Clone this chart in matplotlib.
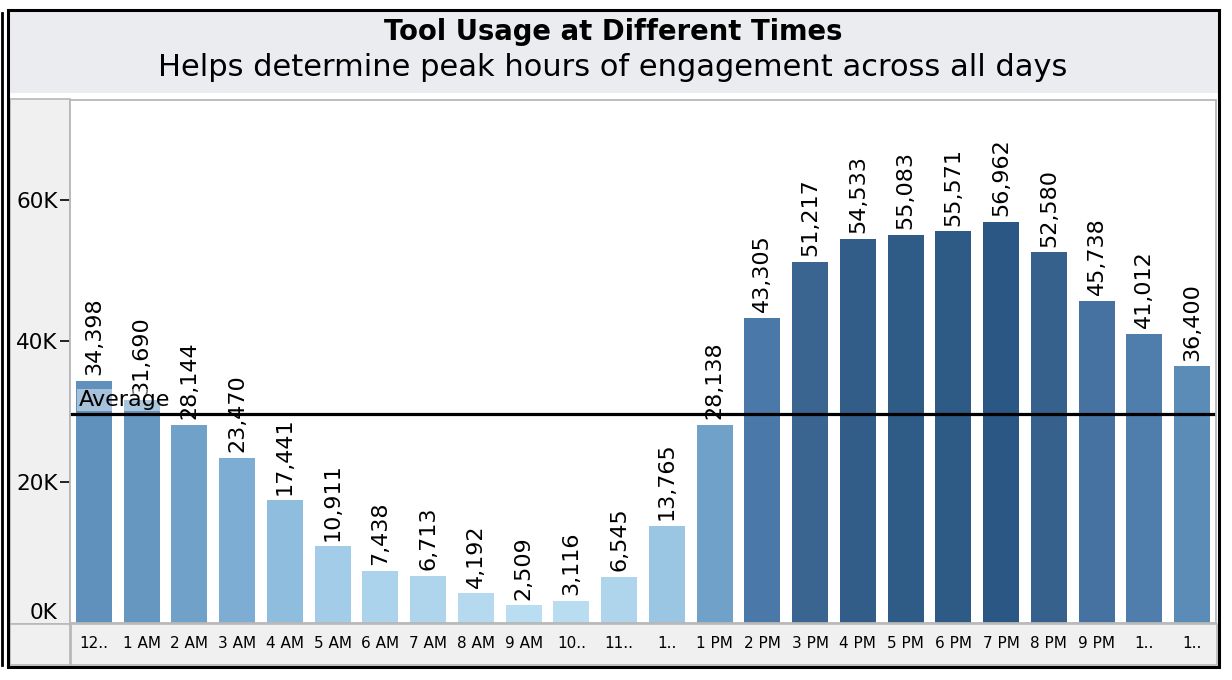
import numpy as np
import matplotlib.pyplot as plt
from matplotlib.colors import LinearSegmentedColormap, Normalize
from matplotlib.patches import Rectangle
from matplotlib.lines import Line2D

# Data
hours = ['12..', '1 AM', '2 AM', '3 AM', '4 AM', '5 AM', '6 AM', '7 AM', '8 AM',
         '9 AM', '10..', '11..', '1..', '1 PM', '2 PM', '3 PM', '4 PM', '5 PM',
         '6 PM', '7 PM', '8 PM', '9 PM', '1..', '1..']
usage = [34398, 31690, 28144, 23470, 17441, 10911, 7438, 6713, 4192, 2509, 3116,
         6545, 13765, 28138, 43305, 51217, 54533, 55083, 55571, 56962, 52580,
         45738, 41012, 36400]
y_ticks = [0, 20000, 40000, 60000]
y_tick_labels = ['0K', '20K', '40K', '60K']

W, H = 1232, 680
fig = plt.figure(figsize=(W / 100, H / 100), dpi=100)
plt.rcParams['font.family'] = ['DejaVu Sans']


def frac(x0, y0, x1, y1):
    # pixel box (top-left origin) -> figure fraction (left, bottom, width, height)
    return x0 / W, 1 - y1 / H, (x1 - x0) / W, (y1 - y0) / H


def add_rect(x0, y0, x1, y1, z=-10, **kw):
    l, b, w, h = frac(x0, y0, x1, y1)
    fig.add_artist(Rectangle((l, b), w, h, transform=fig.transFigure, zorder=z, **kw))


# Background panes (behind the axes)
add_rect(9, 11, 1218, 93, facecolor='#ebecf0', edgecolor='none')
add_rect(10, 99, 70, 624, facecolor='#f0f0f0', edgecolor='#b8b8b8', lw=1.2)
add_rect(10, 624, 1217, 665, facecolor='#f0f0f0', edgecolor='#b8b8b8', lw=1.2)
fig.add_artist(Line2D([70 / W, 70 / W], [1 - 624 / H, 1 - 665 / H],
                      transform=fig.transFigure, color='#b8b8b8', lw=2, zorder=-9))
# Outer frame
add_rect(8, 10, 1219, 667, z=10, facecolor='none', edgecolor='black', lw=2.2)
fig.add_artist(Line2D([2 / W, 2 / W], [1 - 13 / H, 1 - 665 / H],
                      transform=fig.transFigure, color='black', lw=2, zorder=10))

# Titles
fig.text(613 / W, 1 - 32 / H, 'Tool Usage at Different Times', ha='center',
         va='center', fontsize=19.8, fontweight='bold')
fig.text(613 / W, 1 - 68 / H, 'Helps determine peak hours of engagement across all days',
         ha='center', va='center', fontsize=22)

# Chart
ax = fig.add_axes(frac(70, 100, 1216, 623))
cmap = LinearSegmentedColormap.from_list(
    'tab_blue', [(0.0, '#b9ddf1'), (0.2, '#9bc7e4'), (0.47, '#6fa1c9'),
                 (0.75, '#4a78a8'), (0.895, '#3a6590'), (1.0, '#2a5783')])
norm = Normalize(min(usage), max(usage))
x = np.arange(len(hours))
bars = ax.bar(x, usage, width=0.75, color=cmap(norm(usage)))
ax.bar_label(bars, labels=[f'{v:,}' for v in usage], rotation=90, padding=4,
             fontsize=16)

avg = np.mean(usage)
ax.axhline(avg, color='black', lw=2.3)
ax.annotate('Average', xy=(0, avg), xycoords=('axes fraction', 'data'),
            xytext=(6, 3), textcoords='offset points', fontsize=16,
            va='bottom', ha='left',
            bbox=dict(facecolor='white', alpha=0.45, edgecolor='none', pad=1))

ax.set_xlim(-0.5, len(hours) - 0.5)
ax.set_ylim(0, 74200)
ax.set_xticks(x)
ax.set_xticklabels(hours, fontsize=11)
ax.set_yticks(y_ticks)
ax.set_yticklabels(y_tick_labels, fontsize=15.5)
ax.tick_params(axis='x', length=0, pad=9)
ax.tick_params(axis='y', length=7, width=1.2, pad=2)
# bottom label sits above the axis line, without a tick mark
ytick0 = ax.yaxis.get_major_ticks()[0]
ytick0.tick1line.set_visible(False)
ytick0.label1.set_va('bottom')
for s in ax.spines.values():
    s.set_color('#b8b8b8')
    s.set_linewidth(1.3)

fig.savefig('out.png', dpi=100)
